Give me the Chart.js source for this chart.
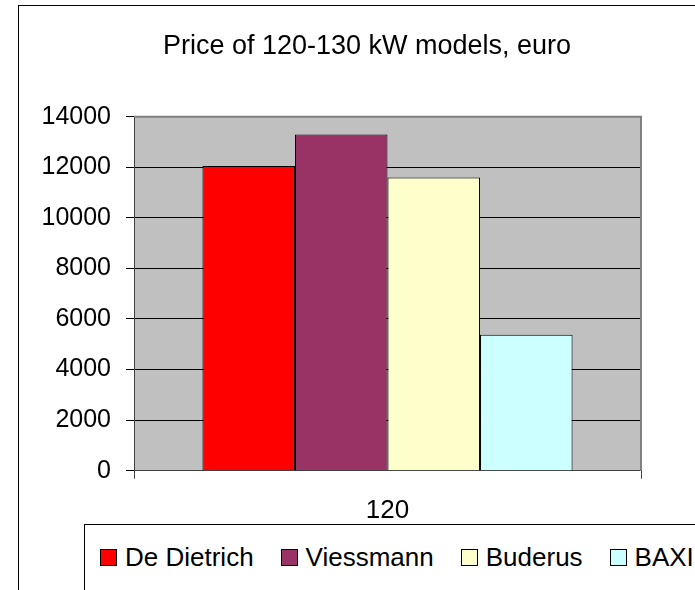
<!DOCTYPE html>
<html>
<head>
<meta charset="utf-8">
<title>Price of 120-130 kW models, euro</title>
<script src="https://cdn.jsdelivr.net/npm/chart.js@4.4.1/dist/chart.umd.min.js"></script>
<style>
  html, body { margin: 0; padding: 0; background: #fff; }
  #page { position: relative; width: 695px; height: 590px; overflow: hidden; background: #fff; }
  #frame { position: absolute; left: 18px; top: 5px; width: 700px; height: 600px; border: 1px solid #000; }
  #frame canvas { display: block; }
  #legend {
    position: absolute; left: 84px; top: 524px; width: 700px; height: 100px;
    box-sizing: border-box; border: 1px solid #000; background: #fff;
    padding-left: 15px;
  }
  #legend .row { height: 65px; display: flex; align-items: center; white-space: nowrap; }
  #legend .swatch { width: 15px; height: 15px; border: 1px solid #000; margin-right: 8px; flex: none; }
  #legend .name { font: 26px 'Liberation Sans', Arial, sans-serif; color: #000; margin-right: 27px; flex: none; }
</style>
</head>
<body>
<div id="page">
  <div id="frame"><canvas id="grafica" width="700" height="600"></canvas></div>
  <div id="legend"><div class="row" id="legend-row"></div></div>
</div>
<script>
'use strict';

/* ── DATOS ── */
const categories   = ['120'];
const seriesNames  = ['De Dietrich', 'Viessmann', 'Buderus', 'BAXI'];
const seriesValues = [12050, 13300, 11600, 5380];
const seriesColors = ['#FF0000', '#993366', '#FFFFCC', '#CCFFFF'];
const yTicks       = [0, 2000, 4000, 6000, 8000, 10000, 12000, 14000];

const FONT = "'Liberation Sans', Arial, sans-serif";

/* ── fondo gris del área de trazado + borde superior/derecho ── */
const plotArea = {
  id: 'plotArea',
  beforeDraw(chart) {
    const { ctx, chartArea: a } = chart;
    ctx.save();
    ctx.fillStyle = '#C0C0C0';
    ctx.fillRect(a.left, a.top, a.right - a.left, a.bottom - a.top);
    ctx.restore();
  },
  beforeDatasetsDraw(chart) {
    const { ctx, chartArea: a } = chart;
    ctx.save();
    ctx.strokeStyle = '#808080';
    ctx.lineWidth = 2;
    ctx.beginPath();
    ctx.moveTo(a.left, a.top);
    ctx.lineTo(a.right, a.top);
    ctx.lineTo(a.right, a.bottom);
    ctx.stroke();
    ctx.restore();
  }
};

const datasets = seriesNames.map((name, i) => ({
  label: name,
  data: [seriesValues[i]],
  backgroundColor: seriesColors[i],
  borderColor: '#000',
  borderWidth: 1,
  categoryPercentage: 0.73,
  barPercentage: 1
}));

new Chart(document.getElementById('grafica'), {
  type: 'bar',
  data: { labels: categories, datasets },
  plugins: [plotArea],
  options: {
    responsive: false,
    animation: false,
    devicePixelRatio: 1,
    layout: { padding: { left: 0, right: 4, top: 0, bottom: 0 } },
    plugins: {
      legend: { display: false },
      tooltip: { enabled: false },
      title: {
        display: true,
        text: 'Price of 120-130 kW models, euro',
        color: '#000',
        font: { family: FONT, size: 27, weight: 'normal' },
        padding: { top: 24.8, bottom: 53.5 }
      }
    },
    scales: {
      x: {
        offset: true,
        grid: { drawOnChartArea: false, drawTicks: true, tickLength: 8, color: '#404040' },
        border: { color: '#404040', width: 1 },
        ticks: { color: '#000', font: { family: FONT, size: 26 }, padding: 17 },
        afterFit(s) { s.height = 135.3; }
      },
      y: {
        min: 0,
        max: 14000,
        afterBuildTicks(s) { s.ticks = yTicks.map(v => ({ value: v })); },
        grid: { color: '#000', lineWidth: 1, tickLength: 8 },
        border: { color: '#404040', width: 1 },
        ticks: {
          color: '#000',
          font: { family: FONT, size: 25 },
          padding: 15,
          callback: v => String(v)
        },
        afterFit(s) { s.width = 115; }
      },
      /* eje vacío a la derecha: deja el título centrado en todo el marco */
      yPad: {
        position: 'right',
        display: true,
        grid: { display: false },
        border: { display: false },
        ticks: { display: false },
        afterFit(s) { s.width = 74; }
      }
    }
  }
});

/* ── LEYENDA ── */
const row = document.getElementById('legend-row');
seriesNames.forEach((name, i) => {
  const sw = document.createElement('span');
  sw.className = 'swatch';
  sw.style.background = seriesColors[i];
  const tx = document.createElement('span');
  tx.className = 'name';
  tx.textContent = name;
  row.appendChild(sw);
  row.appendChild(tx);
});
</script>
</body>
</html>
